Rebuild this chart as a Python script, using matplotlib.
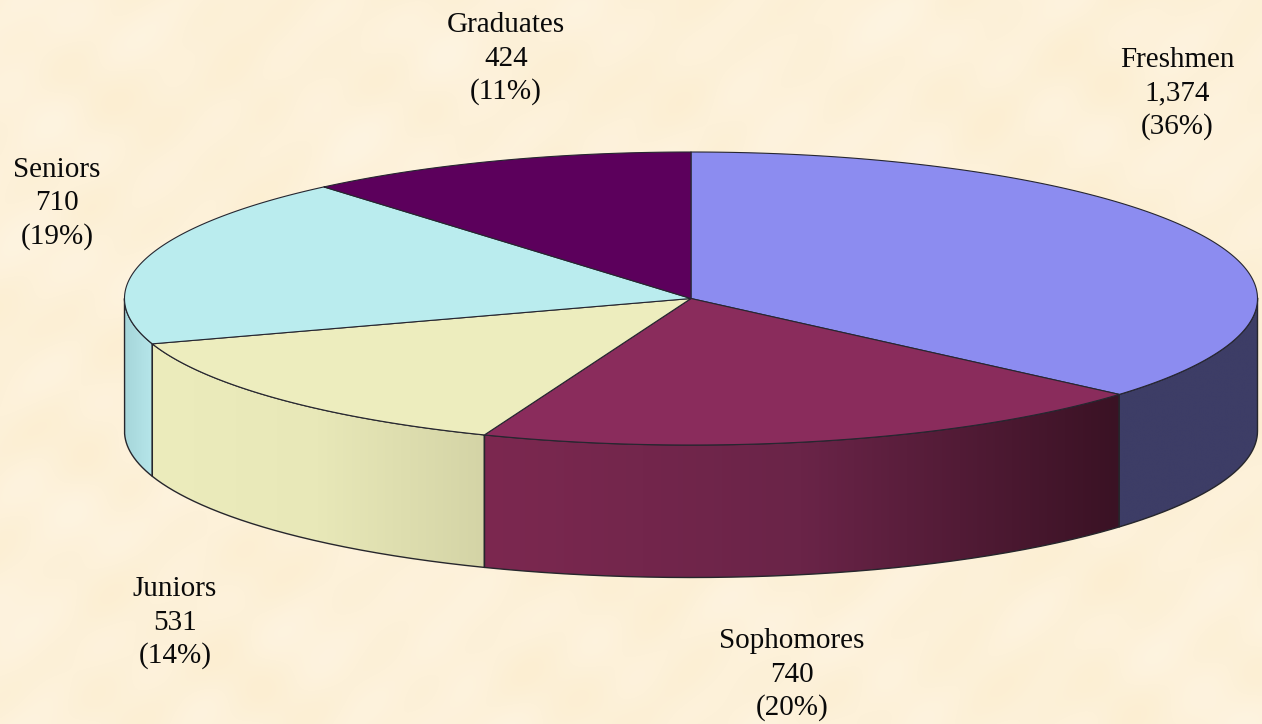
import numpy as np
import matplotlib
matplotlib.use('Agg')
import matplotlib.pyplot as plt
from matplotlib.patches import Polygon
from matplotlib.colors import LinearSegmentedColormap

names = ['Freshmen', 'Sophomores', 'Juniors', 'Seniors', 'Graduates']
counts = [1374, 740, 531, 710, 424]
count_labels = ['1,374', '740', '531', '710', '424']
pct_labels = ['(36%)', '(20%)', '(14%)', '(19%)', '(11%)']

top_colors = ['#8C8CF0', '#8A2C5C', '#EDEDBE', '#BAECEE', '#5C005C']
# colours of the outer wall, left to right
side_colors = [['#3D3D66', '#3D3D66'],
               ['#7C2850', '#6A2448', '#3A1224'],
               ['#ECECBC', '#E8E8B8', '#D4D4A6'],
               ['#A6D6DA', '#B6E6EA'],
               ['#3A003A', '#3A003A']]

# label centre x and the baseline of its first line
label_xy = [(1177, 67), (792, 648), (175, 596), (57, 177), (506, 32)]

W, H = 1262, 724
cx, cy = 691, 298.5
rx, ry = 566.5, 146.5
depth = 132.5

fig = plt.figure(figsize=(W / 100, H / 100), dpi=100)
ax = fig.add_axes([0, 0, 1, 1])
ax.set_xlim(0, W)
ax.set_ylim(H, 0)
ax.axis('off')

# parchment background, soft mottling made of a few waves
yy, xx = np.mgrid[0:H, 0:W]
mot = (np.sin(xx / 23 + 1.3 * np.sin(yy / 31)) + np.sin(yy / 19 + 1.1 * np.sin(xx / 27))
       + np.sin((xx + yy) / 13 + 0.7) + np.sin((xx - 2 * yy) / 41)
       + np.sin(xx / 67 + 2.1 * np.sin(yy / 83)))
mot = mot / 5
base = np.array([253, 241, 217]) / 255
tone = np.array([1, 3, 8]) / 255
bg = np.clip(base[None, None, :] + mot[:, :, None] * tone[None, None, :], 0, 1)
ax.imshow(bg, extent=[0, W, H, 0], aspect='auto', zorder=0)

fracs = np.array(counts) / sum(counts)
edges = np.radians(90 - 360 * np.concatenate([[0], np.cumsum(fracs)]))


def rim(a1, a2, n=200):
    t = np.linspace(a1, a2, n)
    return cx + rx * np.cos(t), cy - ry * np.sin(t)


# side walls, only the part facing the viewer (lower half of the ellipse)
for i in range(len(names)):
    a1, a2 = edges[i], edges[i + 1]
    lo = max(a2, np.radians(-180))
    hi = min(a1, 0)
    if lo >= hi:
        continue
    x, y = rim(hi, lo)
    pts = np.r_[np.c_[x, y], np.c_[x[::-1], y[::-1] + depth]]
    poly = Polygon(pts, closed=True, fc='none', ec='none', transform=ax.transData)
    ax.add_patch(poly)
    cmap = LinearSegmentedColormap.from_list('side%d' % i, side_colors[i])
    im = ax.imshow(np.linspace(0, 1, 256)[None, :], cmap=cmap, aspect='auto', zorder=2,
                   extent=[x.min(), x.max(), y.max() + depth, y.min()], interpolation='bilinear')
    im.set_clip_path(poly)
    ax.plot(np.r_[x, x[-1], x[::-1], x[0]],
            np.r_[y, y[-1] + depth, y[::-1] + depth, y[0]],
            color='#26262c', lw=1.0, zorder=3)

# the images reset the limits
ax.set_xlim(0, W)
ax.set_ylim(H, 0)

# top face
for i in range(len(names)):
    x, y = rim(edges[i], edges[i + 1])
    pts = np.r_[[[cx, cy]], np.c_[x, y]]
    ax.add_patch(Polygon(pts, closed=True, fc=top_colors[i], ec='#262630', lw=0.8, zorder=4,
                         joinstyle='round'))

# labels
for i in range(len(names)):
    lx, ly = label_xy[i]
    for j, s in enumerate([names[i], count_labels[i], pct_labels[i]]):
        ax.text(lx, ly + j * 33.5, s, family=['Liberation Serif', 'DejaVu Serif'], fontsize=21,
                color='#0a0a0a', ha='center', va='baseline', zorder=6)

fig.savefig('out.png', dpi=100)
